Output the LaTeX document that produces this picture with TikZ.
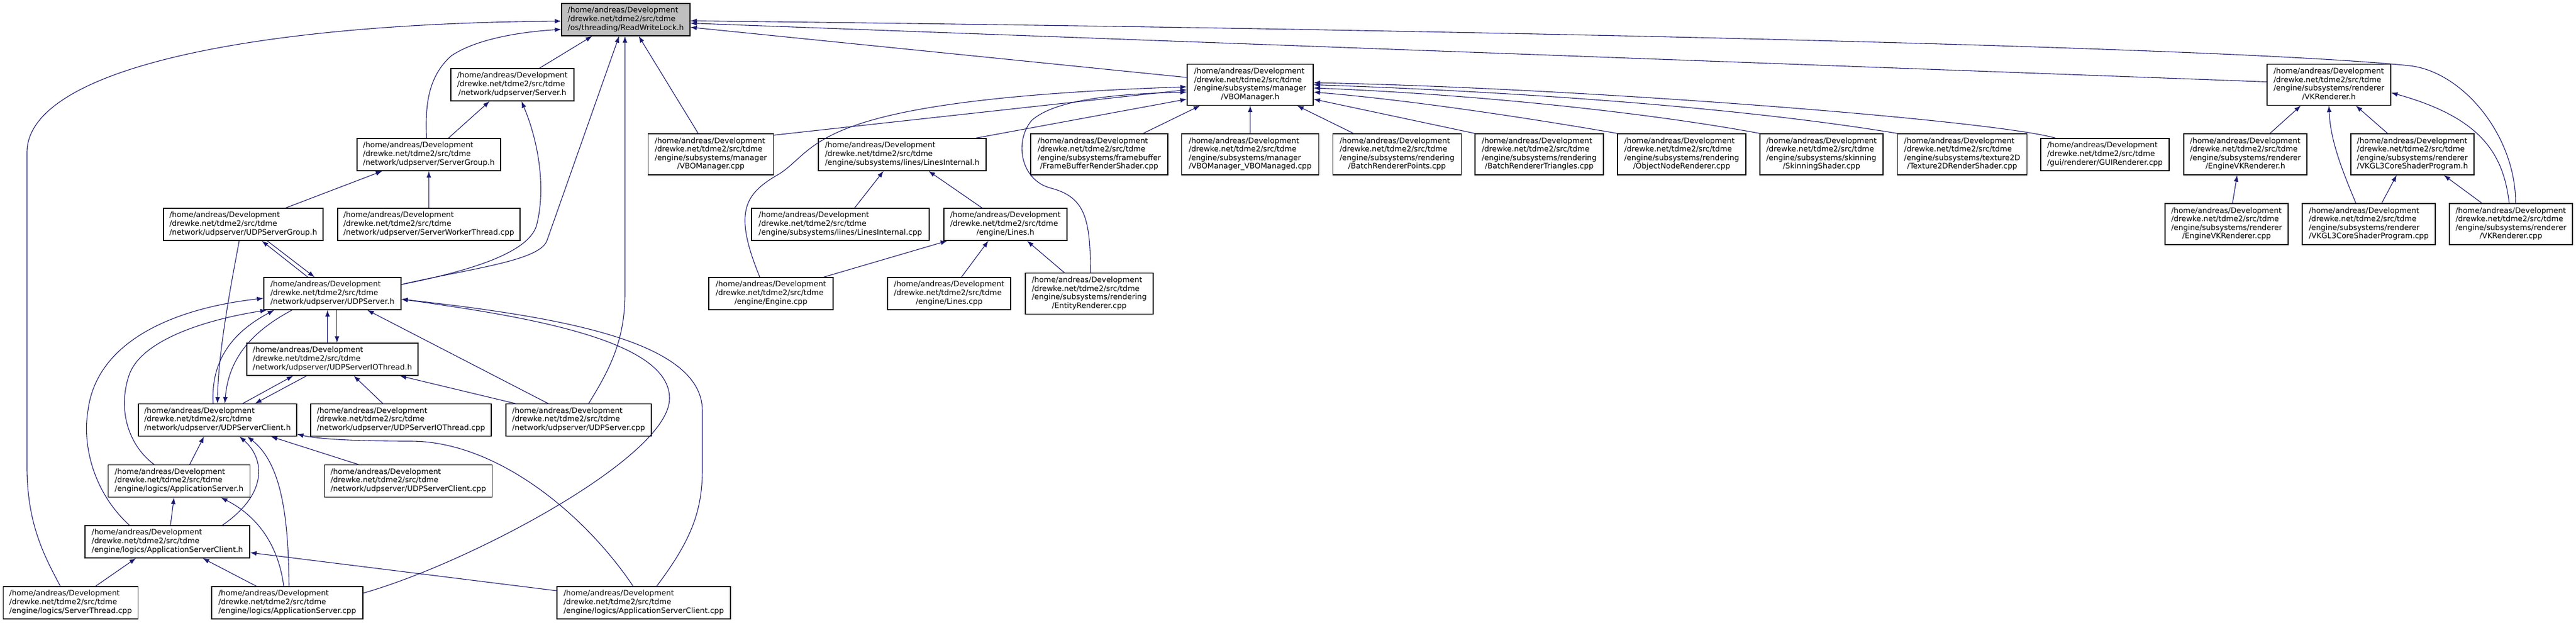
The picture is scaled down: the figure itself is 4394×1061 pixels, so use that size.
\documentclass[tikz,border=0pt]{standalone}
\usepackage{fontspec}
\setmainfont{DejaVu Sans}
\usetikzlibrary{arrows.meta}
\definecolor{edgeblue}{HTML}{191970}
% file labels: path lines left, last line centred
\newcommand{\fthree}[1]{\begin{tabular}{@{}l@{}}/home/andreas/Development\\/drewke.net/tdme2/src/tdme\\\multicolumn{1}{@{}c@{}}{#1}\end{tabular}}
\newcommand{\ffour}[2]{\begin{tabular}{@{}l@{}}/home/andreas/Development\\/drewke.net/tdme2/src/tdme\\#1\\\multicolumn{1}{@{}c@{}}{#2}\end{tabular}}

\begin{document}
\begin{tikzpicture}[x=1pt,y=-1pt,font=\fontsize{12.9}{14.6}\selectfont,
    file/.style={draw,line width=1.3pt,fill=white,inner xsep=5pt,inner ysep=0pt,minimum height=55pt},
    file4/.style={file,minimum height=70pt},
    dep/.style={edgeblue,line width=1.1pt,-{Latex[length=11pt,width=8pt]}}]
    \useasboundingbox (0,0) rectangle (4394,1061);
    % racine
    \node[file,fill=black!25,minimum width=219pt] (rwlock) at (1067.5,33.5) {\fthree{/os/threading/ReadWriteLock.h}};
    % network
    \node[file,minimum width=210pt] (serverh) at (874,144.5) {\fthree{/network/udpserver/Server.h}};
    \node[file,minimum width=245pt] (sgrouph) at (731.5,263.5) {\fthree{/network/udpserver/ServerGroup.h}};
    \node[file,minimum width=272pt] (udpsgrouph) at (415,382.5) {\fthree{/network/udpserver/UDPServerGroup.h}};
    \node[file,minimum width=311pt] (swthread) at (731.5,382.5) {\fthree{/network/udpserver/ServerWorkerThread.cpp}};
    \node[file,minimum width=234pt] (udpsh) at (567,500.5) {\fthree{/network/udpserver/UDPServer.h}};
    \node[file,minimum width=292pt] (udpiothh) at (567,612.5) {\fthree{/network/udpserver/UDPServerIOThread.h}};
    \node[file,minimum width=270pt] (udpclienth) at (371,716) {\fthree{/network/udpserver/UDPServerClient.h}};
    \node[file,minimum width=308pt] (udpiothcpp) at (684,716) {\fthree{/network/udpserver/UDPServerIOThread.cpp}};
    \node[file,minimum width=248pt] (udpscpp) at (987,716) {\fthree{/network/udpserver/UDPServer.cpp}};
    \node[file,minimum width=286pt] (udpclientcpp) at (696.5,820) {\fthree{/network/udpserver/UDPServerClient.cpp}};
    % logics
    \node[file,minimum width=242pt] (appsh) at (305.5,820) {\fthree{/engine/logics/ApplicationServer.h}};
    \node[file,minimum width=281pt] (appsclienth) at (285.5,923.5) {\fthree{/engine/logics/ApplicationServerClient.h}};
    \node[file,minimum width=230pt] (sthreadcpp) at (120.5,1027.5) {\fthree{/engine/logics/ServerThread.cpp}};
    \node[file,minimum width=258pt] (appscpp) at (490,1027.5) {\fthree{/engine/logics/ApplicationServer.cpp}};
    \node[file,minimum width=296pt] (appsclientcpp) at (1098,1027.5) {\fthree{/engine/logics/ApplicationServerClient.cpp}};
    % manager, lines
    \node[file4,minimum width=215pt] (vbomh) at (2132.5,144.5) {\ffour{/engine/subsystems/manager}{/VBOManager.h}};
    \node[file4,minimum width=214pt] (vbomcpp) at (1212.5,263) {\ffour{/engine/subsystems/manager}{/VBOManager.cpp}};
    \node[file,minimum width=286pt] (linesinth) at (1539,263.5) {\fthree{/engine/subsystems/lines/LinesInternal.h}};
    \node[file4,minimum width=234pt] (fbshader) at (1875,263) {\ffour{/engine/subsystems/framebuffer}{/FrameBufferRenderShader.cpp}};
    \node[file4,minimum width=234pt] (vbomanaged) at (2132.5,263) {\ffour{/engine/subsystems/manager}{/VBOManager\_VBOManaged.cpp}};
    \node[file,minimum width=303pt] (linesintcpp) at (1433.5,382.5) {\fthree{/engine/subsystems/lines/LinesInternal.cpp}};
    \node[file,minimum width=210pt] (linesh) at (1715,382.5) {\fthree{/engine/Lines.h}};
    \node[file,minimum width=212pt] (enginecpp) at (1315,500.5) {\fthree{/engine/Engine.cpp}};
    \node[file,minimum width=210pt] (linescpp) at (1619,500.5) {\fthree{/engine/Lines.cpp}};
    \node[file4,minimum width=218pt] (entityr) at (1858,500.5) {\ffour{/engine/subsystems/rendering}{/EntityRenderer.cpp}};
    \node[file4,minimum width=219pt] (batchpts) at (2383,263) {\ffour{/engine/subsystems/rendering}{/BatchRendererPoints.cpp}};
    \node[file4,minimum width=219pt] (batchtri) at (2625.5,263) {\ffour{/engine/subsystems/rendering}{/BatchRendererTriangles.cpp}};
    \node[file4,minimum width=219pt] (objnode) at (2868.5,263) {\ffour{/engine/subsystems/rendering}{/ObjectNodeRenderer.cpp}};
    \node[file4,minimum width=210pt] (skinning) at (3107,263) {\ffour{/engine/subsystems/skinning}{/SkinningShader.cpp}};
    \node[file4,minimum width=221pt] (tex2d) at (3347,263) {\ffour{/engine/subsystems/texture2D}{/Texture2DRenderShader.cpp}};
    \node[file,minimum width=219pt] (guir) at (3590.5,263.5) {\fthree{/gui/renderer/GUIRenderer.cpp}};
    % renderer
    \node[file4,minimum width=211pt] (vkrh) at (3972.5,144.5) {\ffour{/engine/subsystems/renderer}{/VKRenderer.h}};
    \node[file4,minimum width=210pt] (evkrh) at (3830,263) {\ffour{/engine/subsystems/renderer}{/EngineVKRenderer.h}};
    \node[file4,minimum width=210pt] (vkgl3h) at (4115,263) {\ffour{/engine/subsystems/renderer}{/VKGL3CoreShaderProgram.h}};
    \node[file4,minimum width=210pt] (evkrcpp) at (3798,382) {\ffour{/engine/subsystems/renderer}{/EngineVKRenderer.cpp}};
    \node[file4,minimum width=227pt] (vkgl3cpp) at (4040.5,382) {\ffour{/engine/subsystems/renderer}{/VKGL3CoreShaderProgram.cpp}};
    \node[file4,minimum width=210pt] (vkrcpp) at (4283,382) {\ffour{/engine/subsystems/renderer}{/VKRenderer.cpp}};

    % straight includes, lower north -> upper south
    \foreach \a/\sa/\b/\sb in {sgrouph/33.5pt/serverh/-39pt, udpsgrouph/72.6pt/sgrouph/-79.5pt,
        swthread/0pt/sgrouph/0pt, udpsh/-42pt/udpsgrouph/31.6pt, udpiothh/-8.3pt/udpsh/-8.3pt,
        udpscpp/-52pt/udpsh/59.5pt, udpclienth/43pt/udpiothh/-67pt, udpiothcpp/-31pt/udpiothh/36.5pt,
        udpscpp/-108pt/udpiothh/115pt, appsh/18pt/udpclienth/-23pt, udpclientcpp/-85pt/udpclienth/91pt,
        appsclienth/5.3pt/appsh/-8.7pt, sthreadcpp/42.4pt/appsclienth/-53.7pt, appscpp/-52.5pt/appsclienth/60.3pt,
        serverh/46pt/rwlock/-57.5pt, vbomcpp/-21.6pt/rwlock/22pt, fbshader/75pt/vbomh/-85.5pt,
        vbomanaged/0pt/vbomh/0pt, batchpts/-74.3pt/vbomh/80pt, linesintcpp/24.3pt/linesinth/-32pt,
        linesh/-40pt/linesinth/45pt, enginecpp/90pt/linesh/-99.4pt, linescpp/21pt/linesh/-29.2pt,
        entityr/-42.4pt/linesh/37pt, evkrh/42pt/vkrh/-48pt, vkgl3h/-42.5pt/vkrh/46pt,
        evkrcpp/10pt/evkrh/-14pt, vkgl3cpp/22pt/vkgl3h/-27pt, vkrcpp/-49.5pt/vkgl3h/53.6pt}
        \draw[dep] ([xshift=\sa]\a.north) -- ([xshift=\sb]\b.south);
    % cycles, upper south -> lower north
    \foreach \a/\sa/\b/\sb in {udpsgrouph/41pt/udpsh/-30.5pt, udpsh/7.8pt/udpiothh/7.8pt, udpiothh/-44pt/udpclienth/64pt}
        \draw[dep] ([xshift=\sa]\a.south) -- ([xshift=\sb]\b.north);
    \draw[dep] ([xshift=-7pt]udpsgrouph.south) .. controls (395,480) and (372,600) .. (udpclienth.north);
    \draw[dep] ([xshift=-69pt]udpsh.south) .. controls (430,565) and (390,610) .. ([xshift=12.5pt]udpclienth.north);
    \draw[dep] ([xshift=-7.5pt]udpclienth.north) .. controls (360,620) and (390,570) .. ([xshift=-99.4pt]udpsh.south);

    % to ReadWriteLock.h
    \draw[dep] ([xshift=-17.6pt]sthreadcpp.north) .. controls (80,955) and (47,900) .. (46,800) -- (46,260)
        .. controls (46,120) and (420,40) .. ([yshift=-2.5pt]rwlock.west);
    \draw[dep] ([xshift=-4pt]sgrouph.north) .. controls (725,180) and (730,130) .. (770,95)
        .. controls (810,68) and (880,55) .. ([yshift=-16.5pt]rwlock.west);
    \draw[dep] ([yshift=15.5pt]udpsh.east) .. controls (800,458) and (921,445) .. (933,410) -- ([xshift=-11.5pt]rwlock.south);
    \draw[dep] ([yshift=15.5pt]udpsh.east) .. controls (800,462) and (900,432) .. (915,385)
        .. controls (932,320) and (918,240) .. ([xshift=15.5pt]serverh.south);
    \draw[dep] ([xshift=17pt]udpscpp.north) .. controls (1040,630) and (1066,580) .. (1066,500) -- ([xshift=-1.5pt]rwlock.south);
    \draw[dep] ([yshift=12.5pt]vbomh.west) -- ([yshift=-13pt]rwlock.east);
    \draw[dep] ([yshift=5pt]vkrh.west) -- ([yshift=-6pt]rwlock.east);
    \draw[dep] ([xshift=8pt]vkrcpp.north) .. controls (4291,230) and (4200,122) .. (4110,112)
        .. controls (3800,80) and (2500,50) .. ([yshift=-2pt]rwlock.east);

    % to UDPServer.h, UDPServerClient.h
    \draw[dep] ([xshift=-42.5pt]appsh.north) .. controls (220,760) and (200,700) .. (220,640)
        .. controls (240,580) and (350,545) .. ([xshift=-112pt]udpsh.south);
    \draw[dep] ([xshift=-64.7pt]appsclienth.north) .. controls (160,840) and (140,760) .. (150,700)
        .. controls (165,580) and (300,525) .. ([yshift=-8pt]udpsh.west);
    \draw[dep] ([yshift=16.5pt]appscpp.east) .. controls (800,960) and (1140,780) .. (1142,680)
        .. controls (1144,580) and (900,540) .. ([yshift=-9.5pt]udpsh.east);
    \draw[dep] ([xshift=22pt]appsclientcpp.north) .. controls (1180,920) and (1198,870) .. (1198,800) -- (1198,700)
        .. controls (1198,580) and (950,540) .. ([yshift=-9.5pt]udpsh.east);
    \draw[dep] ([xshift=-18pt]appsclientcpp.north) .. controls (1000,880) and (850,752) .. (700,752)
        .. controls (600,752) and (540,748) .. ([yshift=-24pt]udpclienth.east);
    \draw[dep] ([xshift=93.8pt]appsclienth.north) .. controls (460,840) and (450,780) .. ([xshift=37.5pt]udpclienth.south);
    \draw[dep] ([xshift=3pt]appscpp.north) .. controls (492,880) and (480,790) .. ([xshift=51pt]udpclienth.south);
    \draw[dep] ([xshift=-6pt]appscpp.north) .. controls (475,930) and (440,880) .. ([xshift=71.3pt]appsh.south);
    \draw[dep] ([yshift=20.5pt]appsclientcpp.west) -- ([yshift=-18.5pt]appsclienth.east);

    % to VBOManager.h
    \draw[dep] ([xshift=-19pt]enginecpp.north) .. controls (1250,360) and (1270,330) .. (1330,296)
        .. controls (1400,250) and (1380,170) .. ([yshift=-3.5pt]vbomh.west);
    \draw[dep] ([yshift=-3pt]vbomcpp.north east) -- ([yshift=-8.5pt]vbomh.west);
    \draw[dep] ([xshift=2pt]entityr.north) .. controls (1860,370) and (1850,335) .. (1790,320)
        .. controls (1740,305) and (1730,240) .. (1760,205)
        .. controls (1800,170) and (1900,160) .. ([yshift=-12.5pt]vbomh.west);
    \draw[dep] ([xshift=125.7pt]linesinth.north) -- ([yshift=-24.5pt]vbomh.west);
    \draw[dep] (batchtri.north west) -- ([yshift=-24.5pt]vbomh.east);
    \draw[dep] (objnode.north west) .. controls (2600,200) and (2400,170) .. ([yshift=-12.5pt]vbomh.east);
    \draw[dep] (skinning.north west) .. controls (2800,190) and (2500,160) .. ([yshift=-5.5pt]vbomh.east);
    \draw[dep] (tex2d.north west) .. controls (2950,180) and (2550,155) .. (vbomh.east);
    \draw[dep] ([xshift=-84.5pt]guir.north) .. controls (3400,205) and (2700,150) .. ([yshift=3.5pt]vbomh.east);

    % to VKRenderer.h
    \draw[dep] ([xshift=-22pt]vkgl3cpp.north) .. controls (3995,290) and (3975,240) .. (vkrh.south);
    \draw[dep] ([xshift=-3pt]vkrcpp.north) .. controls (4270,260) and (4230,200) .. ([yshift=-13.5pt]vkrh.east);
\end{tikzpicture}
\end{document}
